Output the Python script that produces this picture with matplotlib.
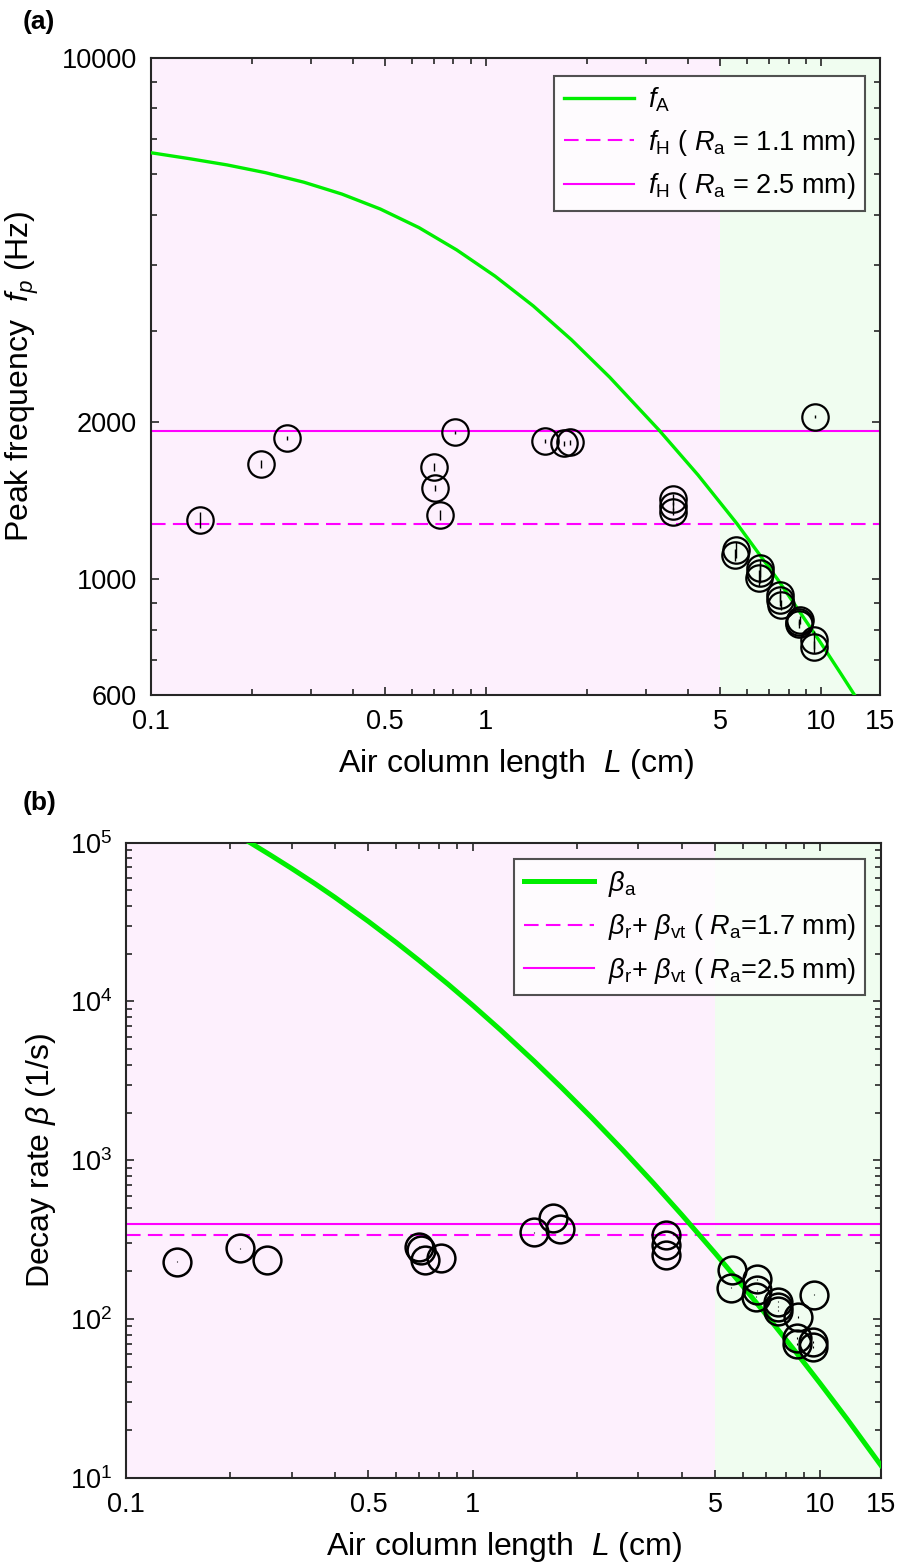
import matplotlib
matplotlib.use('Agg')
import matplotlib.pyplot as plt
from matplotlib import ticker
import numpy as np

plt.rcParams['font.family'] = ['Liberation Sans', 'DejaVu Sans']
plt.rcParams['mathtext.fontset'] = 'custom'
plt.rcParams['mathtext.rm'] = 'Liberation Sans'
plt.rcParams['mathtext.it'] = 'Liberation Sans:italic'
plt.rcParams['mathtext.bf'] = 'Liberation Sans:bold'

# measured points: air column length L (cm), peak frequency (Hz), decay rate (1/s)
L_cm = [0.140, 0.213, 0.255, 0.699, 0.707, 0.729, 0.807, 1.496, 1.706, 1.787,
        3.61, 3.61, 3.61, 5.58, 5.55, 6.58, 6.58, 6.55, 7.55, 7.55, 7.60,
        8.66, 8.60, 8.60, 9.60, 9.53, 9.55]
f_peak = [1300, 1664, 1865, 1641, 1498, 1329, 1914, 1842, 1824, 1832,
          1424, 1348, 1385, 1138, 1113, 1050, 1030, 1005, 933, 912, 893,
          836, 828, 820, 2050, 765, 743]
f_err = [48, 28, 18, 30, 22, 28, 14, 14, 20, 20,
         35, 20, 25, 40, 30, 40, 45, 35, 30, 25, 20,
         15, 12, 12, 12, 30, 20]
beta = [230, 279, 236, 286, 272, 236, 242, 352, 432, 368,
        339, 293, 254, 204, 158, 178, 152, 138, 129, 113, 120,
        103, 76, 70, 142, 72, 67]
beta_err = [1, 1, 1, 1, 1, 1, 1, 1, 1, 1,
            1, 1, 1, 1, 1, 1, 1, 1, 1, 1, 1,
            1, 1, 1, 1, 1, 1]

# model curves
fA_L = [0.1, 0.13, 0.169, 0.22, 0.286, 0.3715, 0.484, 0.631, 0.818, 1.064,
        1.384, 1.799, 2.339, 3.289, 4.295, 5.61, 7.46, 9.93, 11.48, 13.18, 14.13]
fA = [6580, 6411, 6234, 6024, 5777, 5482, 5131, 4727, 4283, 3816,
      3345, 2881, 2442, 1931, 1585, 1279, 995, 759, 658, 573, 540]
fH_11 = 1277
fH_25 = 1928

ba_L = [0.21, 0.228, 0.26, 0.3, 0.35, 0.4, 0.5, 0.6, 0.7, 0.85, 1.0, 1.2,
        1.5, 1.8, 2.2, 2.7, 3.3, 4.0, 5.0, 6.0, 7.0, 8.5, 10, 12, 15]
beta_a = [110700, 100000, 83900, 68900, 55300, 45300, 31900, 23600, 18100,
          12790, 9440, 6630, 4220, 2874, 1854, 1165, 726, 454, 259, 161,
          106.7, 62.6, 39.6, 23.4, 12.0]
beta_17 = 340
beta_25 = 396

pink = '#fdf0fd'
lgreen = '#f0fdf0'
green = '#00ee00'
mag = '#ff00ff'
dash = (0, (7, 3.5))

fig = plt.figure(figsize=(8.98, 15.66), dpi=100)
ax1 = fig.add_axes([0.168, 0.5562, 0.812, 0.4068])
ax2 = fig.add_axes([0.1403, 0.0562, 0.8407, 0.4057])


def style_axes(ax):
    ax.set_xscale('log')
    ax.set_yscale('log')
    ax.set_xlim(0.1, 15)
    ax.xaxis.set_major_locator(ticker.FixedLocator([0.1, 0.5, 1, 5, 10, 15]))
    ax.xaxis.set_major_formatter(ticker.FixedFormatter(['0.1', '0.5', '1', '5', '10', '15']))
    ax.xaxis.set_minor_locator(ticker.FixedLocator(
        [0.2, 0.3, 0.4, 0.6, 0.7, 0.8, 0.9, 2, 3, 4, 6, 7, 8, 9]))
    ax.xaxis.set_minor_formatter(ticker.NullFormatter())
    ax.tick_params(which='both', direction='in', top=True, right=True,
                   labelsize=19.5, color='#262626', width=1.2)
    ax.tick_params(which='major', length=6, pad=10)
    ax.tick_params(which='minor', length=4)
    for s in ax.spines.values():
        s.set_linewidth(1.5)
        s.set_color('#262626')
    ax.axvspan(0.1, 5, color=pink, zorder=0, lw=0)
    ax.axvspan(5, 15, color=lgreen, zorder=0, lw=0)
    ax.set_xlabel('Air column length  $\\mathit{L}$ (cm)', fontsize=23, labelpad=9)


# (a) peak frequency
style_axes(ax1)
ax1.set_ylim(600, 10000)
ax1.yaxis.set_major_locator(ticker.FixedLocator([600, 1000, 2000, 10000]))
ax1.yaxis.set_major_formatter(ticker.FixedFormatter(['600', '1000', '2000', '10000']))
ax1.yaxis.set_minor_locator(ticker.FixedLocator(
    [700, 800, 900, 3000, 4000, 5000, 6000, 7000, 8000, 9000]))
ax1.yaxis.set_minor_formatter(ticker.NullFormatter())

ax1.plot(fA_L, fA, color=green, lw=2.4, label='$f_{\\mathrm{A}}$', zorder=3)
ax1.axhline(fH_11, color=mag, lw=1.5, ls=dash,
            label='$f_{\\mathrm{H}}$ ( $R_{\\mathrm{a}}$ = 1.1 mm)', zorder=2)
ax1.axhline(fH_25, color=mag, lw=1.5,
            label='$f_{\\mathrm{H}}$ ( $R_{\\mathrm{a}}$ = 2.5 mm)', zorder=2)
ax1.errorbar(L_cm, f_peak, yerr=f_err, fmt='o', ms=19, mfc='none', mec='black',
             mew=1.6, ecolor='black', elinewidth=1.0, capsize=0, zorder=4)
leg1 = ax1.legend(loc='upper right', fontsize=19.5, frameon=True, fancybox=False,
                  edgecolor='#262626', handlelength=2.6, handletextpad=0.5,
                  labelspacing=0.5, borderpad=0.35, borderaxespad=0,
                  bbox_to_anchor=(0.9795, 0.971))
leg1.get_frame().set_linewidth(1.5)
ax1.set_ylabel('Peak frequency  $f_{\\mathit{p}}$ (Hz)', fontsize=23)
ax1.yaxis.set_label_coords(-0.15, 0.5)
fig.text(0.025, 0.986, '(a)', fontsize=19, fontweight='bold', va='center')

# (b) decay rate
style_axes(ax2)
ax2.set_ylim(10, 1e5)
ax2.yaxis.set_major_locator(ticker.LogLocator(base=10, numticks=10))
ax2.yaxis.set_major_formatter(ticker.LogFormatterSciNotation())
ax2.yaxis.set_minor_locator(ticker.LogLocator(base=10, subs=np.arange(2, 10), numticks=20))
ax2.yaxis.set_minor_formatter(ticker.NullFormatter())

ax2.plot(ba_L, beta_a, color=green, lw=3.6, label='$\\beta_{\\mathrm{a}}$', zorder=3)
ax2.axhline(beta_17, color=mag, lw=1.5, ls=dash,
            label='$\\beta_{\\mathrm{r}}$+ $\\beta_{\\mathrm{vt}}$ ( $R_{\\mathrm{a}}$=1.7 mm)', zorder=2)
ax2.axhline(beta_25, color=mag, lw=1.5,
            label='$\\beta_{\\mathrm{r}}$+ $\\beta_{\\mathrm{vt}}$ ( $R_{\\mathrm{a}}$=2.5 mm)', zorder=2)
ax2.errorbar(L_cm, beta, yerr=beta_err, fmt='o', ms=20, mfc='none', mec='black',
             mew=1.8, ecolor='black', elinewidth=0.8, capsize=0, zorder=4)
leg2 = ax2.legend(loc='upper right', fontsize=19.5, frameon=True, fancybox=False,
                  edgecolor='#262626', handlelength=2.6, handletextpad=0.5,
                  labelspacing=0.5, borderpad=0.35, borderaxespad=0,
                  bbox_to_anchor=(0.9795, 0.974))
leg2.get_frame().set_linewidth(1.5)
ax2.set_ylabel('Decay rate $\\beta$ (1/s)', fontsize=23)
ax2.yaxis.set_label_coords(-0.09, 0.5)
fig.text(0.025, 0.487, '(b)', fontsize=19, fontweight='bold', va='center')

fig.savefig('out.png', dpi=100)
